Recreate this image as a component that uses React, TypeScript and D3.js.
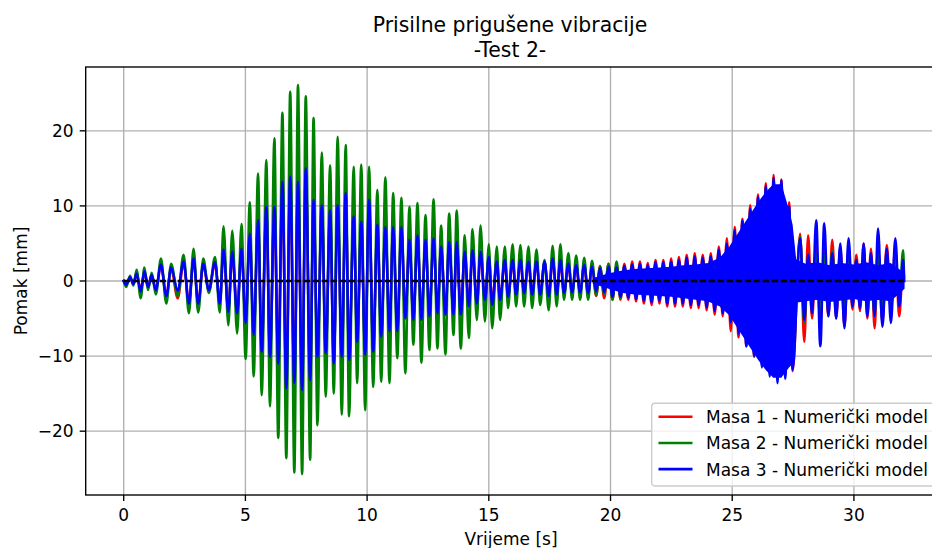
import React, { useEffect, useRef } from "react";
import * as d3 from "d3";

// ---------- data ----------
const title = ["Prisilne prigušene vibracije", "-Test 2-"];
const xLabel = "Vrijeme [s]";
const yLabel = "Pomak [mm]";
const xTicks = [0, 5, 10, 15, 20, 25, 30];
const yTicks = [-20, -10, 0, 10, 20];
const seriesNames = [
  "Masa 1 - Numerički model",
  "Masa 2 - Numerički model",
  "Masa 3 - Numerički model",
];

// times of the extrema (start, then trough/peak pairs, then end), seconds
const tExt = [
  0,
  0.10, 0.26, 0.40, 0.53, 0.70, 0.85, 1.00, 1.15, 1.32, 1.53,
  1.75, 1.95, 2.22, 2.46, 2.68, 2.87, 3.06, 3.27, 3.50, 3.75,
  3.95, 4.10, 4.30, 4.46, 4.66, 4.84, 5.01, 5.18, 5.34, 5.52,
  5.67, 5.86, 6.01, 6.19, 6.35, 6.52, 6.68, 6.84, 7.01, 7.16,
  7.33, 7.48, 7.66, 7.80, 7.96, 8.14, 8.30, 8.48, 8.63, 8.79,
  8.96, 9.12, 9.26, 9.45, 9.59, 9.76, 9.92, 10.08, 10.25, 10.42,
  10.58, 10.75, 10.92, 11.07, 11.24, 11.41, 11.57, 11.74, 11.90, 12.07,
  12.23, 12.40, 12.56, 12.73, 12.89, 13.04, 13.22, 13.37, 13.55, 13.68,
  13.85, 14.01, 14.18, 14.33, 14.51, 14.66, 14.84, 15.00, 15.14, 15.33,
  15.46, 15.66, 15.79, 15.98, 16.12, 16.30, 16.45, 16.63, 16.78, 16.96,
  17.11, 17.29, 17.46, 17.62, 17.79, 17.94, 18.09, 18.27, 18.42, 18.59,
  18.75, 18.92, 19.08, 19.24, 19.41, 19.57, 19.74, 19.92,
  20.08, 20.25, 20.41, 20.57, 20.73, 20.89, 21.05, 21.21, 21.37, 21.53,
  21.69, 21.85, 22.01, 22.17, 22.33, 22.49, 22.65, 22.81, 22.97, 23.13,
  23.30, 23.46, 23.62, 23.79, 23.95, 24.12, 24.28, 24.45, 24.61, 24.78,
  24.94, 25.10, 25.26, 25.42, 25.58, 25.74, 25.90, 26.06, 26.22, 26.38,
  26.54, 26.70, 26.86, 27.02, 27.18, 27.34, 27.48, 27.79, 27.96, 28.12,
  28.28, 28.45, 28.62, 28.78, 28.95, 29.11, 29.27, 29.44, 29.61, 29.78,
  29.94, 30.10, 30.25, 30.40, 30.55, 30.70, 30.85, 30.99, 31.17, 31.35,
  31.52, 31.70, 31.86, 32.02,
  32.06,
];

// Masa 1 (red), mm
const masa1 = [
  0,
  -0.5, 0.4, -0.4, 0.9, -1.2, 1.2, -0.8, 0.7, -1.1, 2.0,
  -1.9, 1.6, -2.3, 2.4, -2.8, 2.8, -2.8, 2.1, -1.3, 2.3,
  -2.8, 4.0, -3.8, 3.6, -4.0, 4.0, -5.2, 5.8, -6.8, 7.6,
  -8.8, 9.2, -9.5, 9.3, -10.3, 12.4, -13.4, 13.0, -12.8, 12.4,
  -13.6, 14.0, -12.4, 10.2, -9.5, 9.5, -9.0, 8.8, -10.3, 9.5,
  -9.5, 11.0, -9.8, 8.1, -7.6, 7.4, -9.2, 10.1, -8.8, 7.0,
  -7.0, 6.8, -6.3, 6.8, -6.3, 6.8, -4.7, 5.2, -4.9, 5.7,
  -4.9, 5.2, -4.4, 5.4, -4.0, 4.3, -4.2, 4.9, -4.2, 4.9,
  -4.2, 3.7, -3.2, 3.9, -2.9, 3.7, -2.6, 3.4, -3.0, 2.9,
  -2.4, 2.6, -2.0, 2.6, -1.8, 2.6, -1.6, 2.5, -1.8, 2.5,
  -1.8, 2.5, -2.0, 2.8, -1.8, 2.6, -1.7, 2.2, -1.6, 2.1,
  -1.7, 2.2, -1.9, 2.1, -2.0, 2.0, -2.3, 2.3,
  -2.5, 2.1, -2.5, 2.3, -2.5, 2.6, -2.7, 2.6, -3.0, 2.4,
  -3.2, 2.8, -3.0, 2.8, -3.4, 3.0, -3.4, 3.2, -3.4, 3.5,
  -3.6, 3.7, -3.6, 3.5, -3.9, 3.7, -4.5, 4.6, -4.7, 5.7,
  -6.7, 7.2, -7.5, 8.3, -8.7, 10.1, -10.1, 11.5, -11.2, 13.0,
  -12.3, 14.1, -13.0, 13.5, -12.5, 10.5, -12.0, 6.3, -8.1, 6.1,
  -5.0, 4.5, -5.5, 4.0, -4.7, 5.5, -5.0, 4.5, -6.0, 4.5,
  -3.8, 3.5, -4.0, 5.0, -5.0, 4.3, -6.3, 4.3, -5.5, 4.8,
  -4.0, 4.6, -4.7, 2.0,
  0,
];

// Masa 2 (green), mm
const masa2 = [
  0,
  -0.8, 0.7, -0.6, 1.5, -2.3, 1.8, -1.2, 1.1, -1.8, 3.0,
  -3.0, 2.3, -2.0, 3.5, -4.3, 4.3, -4.2, 3.0, -1.6, 3.2,
  -4.2, 7.3, -5.9, 6.7, -7.0, 7.6, -10.4, 10.5, -12.7, 14.3,
  -15.2, 16.1, -16.7, 19.0, -20.9, 22.4, -23.6, 25.2, -25.5, 26.1,
  -25.7, 24.6, -23.8, 21.7, -19.2, 17.1, -15.4, 15.4, -15.0, 19.2,
  -17.8, 18.1, -18.0, 15.2, -13.6, 15.5, -17.2, 15.2, -14.1, 12.1,
  -13.4, 13.8, -13.6, 11.7, -10.3, 11.1, -12.3, 9.9, -8.5, 10.4,
  -10.9, 8.8, -9.2, 10.9, -9.0, 7.4, -9.8, 9.0, -7.2, 9.4,
  -9.0, 6.1, -7.6, 6.9, -5.2, 7.4, -5.4, 4.9, -6.3, 4.6,
  -5.2, 4.6, -3.6, 4.9, -3.4, 4.8, -3.4, 4.6, -3.6, 4.2,
  -3.2, 2.8, -3.9, 4.7, -3.4, 4.9, -2.5, 3.7, -2.5, 3.4,
  -2.5, 3.1, -2.5, 2.7, -1.9, 1.9, -1.7, 2.3,
  -2.5, 2.6, -2.3, 2.0, -2.0, 1.8, -2.0, 1.8, -2.2, 1.7,
  -2.4, 2.0, -2.3, 2.0, -2.6, 2.2, -2.7, 2.4, -2.8, 2.6,
  -3.0, 2.8, -3.0, 2.8, -3.2, 3.0, -3.6, 3.8, -4.0, 4.6,
  -5.0, 6.0, -6.5, 7.5, -8.0, 9.0, -9.5, 10.5, -11.0, 12.0,
  -12.0, 13.0, -12.8, 12.8, -12.0, 9.5, -10.5, 5.9, -5.6, 3.0,
  -3.5, 3.5, -4.0, 3.5, -3.8, 4.0, -4.0, 3.5, -4.5, 3.8,
  -3.0, 2.8, -3.0, 3.5, -3.5, 3.0, -4.5, 3.5, -4.0, 3.5,
  -3.5, 3.5, -3.0, 4.1,
  0.5,
];

// Masa 3 (blue), mm
const masa3 = [
  0,
  -0.5, 0.5, -0.4, 1.0, -1.4, 1.3, -0.8, 0.8, -1.2, 2.2,
  -2.0, 1.8, -1.3, 2.6, -3.0, 3.0, -3.0, 2.3, -1.2, 2.5,
  -3.0, 4.2, -4.1, 3.9, -4.3, 4.3, -5.6, 6.3, -7.2, 8.1,
  -9.4, 9.9, -10.1, 9.9, -11.0, 13.2, -14.3, 13.9, -13.6, 13.2,
  -14.5, 15.0, -13.2, 10.8, -10.1, 10.1, -9.6, 9.4, -11.0, 10.1,
  -10.1, 11.7, -10.5, 8.6, -8.1, 7.9, -9.8, 10.8, -9.4, 7.5,
  -7.4, 7.2, -6.7, 7.2, -6.7, 7.2, -5.0, 5.5, -5.2, 6.1,
  -5.2, 5.5, -4.7, 5.7, -4.3, 4.6, -4.5, 5.2, -4.5, 5.2,
  -4.5, 3.9, -3.4, 4.1, -3.0, 3.9, -2.5, 3.2, -3.2, 2.6,
  -2.5, 2.8, -2.1, 2.8, -1.8, 2.8, -1.6, 2.6, -1.8, 2.6,
  -1.8, 2.6, -2.0, 3.0, -1.8, 2.8, -1.6, 2.3, -1.5, 2.1,
  -1.5, 2.1, -1.6, 1.9, -1.4, 1.7, -1.5, 1.9,
  -2.1, 1.8, -2.1, 2.0, -2.2, 2.2, -2.4, 2.3, -2.6, 2.1,
  -2.8, 2.5, -2.6, 2.5, -3.0, 2.6, -3.0, 2.8, -3.0, 3.1,
  -3.2, 3.3, -3.2, 3.1, -3.5, 3.3, -4.0, 4.2, -4.3, 5.0,
  -5.5, 6.8, -7.0, 8.0, -8.7, 9.6, -10.0, 11.2, -11.5, 12.6,
  -12.7, 13.7, -13.6, 13.4, -13.0, 10.0, -11.8, 5.7, -5.2, 3.5,
  -4.3, 8.1, -8.7, 7.7, -4.7, 3.7, -5.0, 5.0, -6.3, 5.7,
  -3.4, 2.8, -3.6, 5.0, -4.7, 3.7, -4.7, 7.0, -6.1, 4.3,
  -5.6, 5.7, -3.4, 2.8,
  0,
];

// dense high-frequency band of Masa 3 in the second half (solid fill), mm
const coreT = [19.3, 19.9, 20.5, 21.0, 21.5, 22.0, 22.5, 23.0, 23.5, 24.0, 24.5, 24.9, 25.2, 25.5, 25.8, 26.1, 26.4, 26.7, 27.0, 27.3, 27.45, 27.6, 28.0, 28.5, 29.0, 29.5, 30.0, 30.5, 31.0, 31.5, 32.05];
const coreHi = [0.3, 0.9, 1.3, 1.5, 1.6, 1.7, 1.8, 2.0, 2.1, 2.3, 3.0, 4.5, 6.0, 7.5, 9.0, 10.5, 11.8, 12.8, 12.8, 9.5, 7.5, 2.8, 2.2, 2.4, 2.0, 2.3, 2.1, 2.4, 2.0, 2.3, 1.0];
const coreLo = [-0.3, -0.9, -1.5, -1.7, -1.8, -1.9, -2.0, -2.2, -2.4, -2.6, -3.3, -4.5, -6.0, -7.5, -9.0, -10.5, -11.8, -12.8, -12.8, -11.5, -11.0, -2.8, -2.6, -2.4, -2.7, -2.5, -2.3, -2.6, -2.4, -2.6, -1.0];

// reference line at zero
const zeroT = [0, 32.06];

const colors = ["#ff0000", "#008000", "#0000ff"];

// ---------- layout ----------
const W = 932;
const H = 548;
const AX = { left: 85.7, right: 943.5, top: 67, bottom: 495 };
const FONT = "'DejaVu Sans', 'Liberation Sans', sans-serif";

export default function App() {
  const ref = useRef<SVGSVGElement | null>(null);

  useEffect(() => {
    const svg = d3.select(ref.current);
    svg.selectAll("*").remove();

    const x = d3.scaleLinear().domain([-1.561, 33.68]).range([AX.left, AX.right]);
    const y = d3.scaleLinear().domain([-28.5, 28.5]).range([AX.bottom, AX.top]);

    svg.append("rect").attr("width", W).attr("height", H).attr("fill", "#ffffff");

    const defs = svg.append("defs");
    defs
      .append("clipPath")
      .attr("id", "plotclip")
      .append("rect")
      .attr("x", AX.left)
      .attr("y", AX.top)
      .attr("width", AX.right - AX.left)
      .attr("height", AX.bottom - AX.top);

    // grid
    const grid = svg.append("g").attr("stroke", "#b0b0b0").attr("stroke-width", 1.36);
    xTicks.forEach((t) =>
      grid.append("line").attr("x1", x(t)).attr("x2", x(t)).attr("y1", AX.top).attr("y2", AX.bottom)
    );
    yTicks.forEach((t) =>
      grid.append("line").attr("x1", AX.left).attr("x2", AX.right).attr("y1", y(t)).attr("y2", y(t))
    );

    const plot = svg.append("g").attr("clip-path", "url(#plotclip)");

    const line = d3
      .line<[number, number]>()
      .x((d) => x(d[0]))
      .y((d) => y(d[1]))
      .curve(d3.curveMonotoneX);

    const series = [masa1, masa2, masa3];
    series.forEach((vals, i) => {
      const n = Math.min(vals.length, tExt.length);
      const pts: [number, number][] = [];
      for (let k = 0; k < n; k++) pts.push([tExt[k], vals[k]]);
      if (i === 2) {
        const area = d3
          .area<number>()
          .x((_, k) => x(coreT[k]))
          .y0((_, k) => y(coreLo[k]))
          .y1((_, k) => y(coreHi[k]));
        plot
          .append("path")
          .attr("d", area(coreT.map((_, k) => k)) as string)
          .attr("fill", colors[i])
          .attr("stroke", colors[i])
          .attr("stroke-width", 1.5);
      }
      plot
        .append("path")
        .attr("d", line(pts) as string)
        .attr("fill", "none")
        .attr("stroke", colors[i])
        .attr("stroke-width", 2.55)
        .attr("stroke-linejoin", "round")
        .attr("stroke-linecap", "square");
    });

    // dashed zero line
    plot
      .append("path")
      .attr("d", d3.line<number>().x((t) => x(t)).y(() => y(0))(zeroT) as string)
      .attr("fill", "none")
      .attr("stroke", "#000000")
      .attr("stroke-width", 2.4)
      .attr("stroke-dasharray", "6.3,2.7");

    // spines
    const sp = svg.append("g").attr("stroke", "#000").attr("stroke-width", 1.36).attr("fill", "none");
    sp.append("rect")
      .attr("x", AX.left)
      .attr("y", AX.top)
      .attr("width", AX.right - AX.left)
      .attr("height", AX.bottom - AX.top);

    // ticks & labels
    const tk = svg.append("g");
    xTicks.forEach((t) => {
      tk.append("line")
        .attr("x1", x(t)).attr("x2", x(t))
        .attr("y1", AX.bottom).attr("y2", AX.bottom + 6)
        .attr("stroke", "#000").attr("stroke-width", 1.36);
      tk.append("text")
        .attr("x", x(t)).attr("y", 521)
        .attr("text-anchor", "middle")
        .attr("font-family", FONT).attr("font-size", 17).attr("fill", "#000")
        .text(String(t));
    });
    yTicks.forEach((t) => {
      tk.append("line")
        .attr("x1", AX.left - 6).attr("x2", AX.left)
        .attr("y1", y(t)).attr("y2", y(t))
        .attr("stroke", "#000").attr("stroke-width", 1.36);
      tk.append("text")
        .attr("x", AX.left - 12).attr("y", y(t)).attr("dy", "0.36em")
        .attr("text-anchor", "end")
        .attr("font-family", FONT).attr("font-size", 17).attr("fill", "#000")
        .text(t < 0 ? "\u2212" + Math.abs(t) : String(t));
    });

    // axis labels
    svg.append("text")
      .attr("x", 511).attr("y", 544.5)
      .attr("text-anchor", "middle")
      .attr("font-family", FONT).attr("font-size", 17).attr("fill", "#000")
      .text(xLabel);
    svg.append("text")
      .attr("transform", `translate(27,${y(0)}) rotate(-90)`)
      .attr("text-anchor", "middle")
      .attr("font-family", FONT).attr("font-size", 17).attr("fill", "#000")
      .text(yLabel);

    // title
    title.forEach((s, i) => {
      svg.append("text")
        .attr("x", 510).attr("y", 31.5 + i * 25.5)
        .attr("text-anchor", "middle")
        .attr("font-family", FONT).attr("font-size", 20.4).attr("fill", "#000")
        .text(s);
    });

    // legend
    const lg = svg.append("g");
    lg.append("rect")
      .attr("x", 651.7).attr("y", 403.3)
      .attr("width", 283).attr("height", 82.7)
      .attr("rx", 3.4).attr("ry", 3.4)
      .attr("fill", "#ffffff").attr("fill-opacity", 0.8)
      .attr("stroke", "#cccccc").attr("stroke-width", 1.36);
    seriesNames.forEach((name, i) => {
      const cy = 416.7 + i * 26.2;
      lg.append("line")
        .attr("x1", 658.5).attr("x2", 692.5)
        .attr("y1", cy).attr("y2", cy)
        .attr("stroke", colors[i]).attr("stroke-width", 2.55);
      lg.append("text")
        .attr("x", 706).attr("y", cy + 6.5)
        .attr("font-family", FONT).attr("font-size", 17).attr("fill", "#000")
        .text(name);
    });
  }, []);

  return (
    <svg
      ref={ref}
      width={W}
      height={H}
      style={{ position: "absolute", left: 0, top: 0, display: "block" }}
    />
  );
}
